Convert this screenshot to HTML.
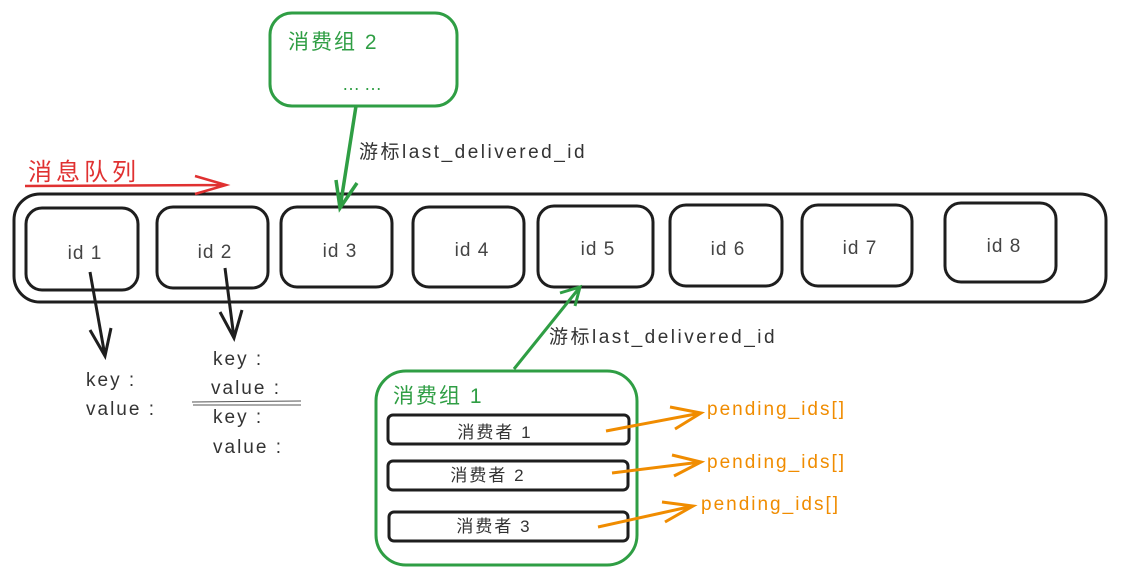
<!DOCTYPE html>
<html><head><meta charset="utf-8"><style>
html,body{margin:0;padding:0;background:#fff;}
svg text{font-family:"Liberation Sans","Noto Sans CJK SC",sans-serif;}
</style></head><body>
<svg width="1122" height="583" viewBox="0 0 1122 583" xmlns="http://www.w3.org/2000/svg">
<rect width="1122" height="583" fill="#fff"/>
<rect x="14" y="194" width="1092" height="108" rx="26" fill="none" stroke="#1e1e1e" stroke-width="3"/>
<g fill="none" stroke="#1e1e1e" stroke-width="3">
<rect x="26" y="208" width="112" height="82" rx="16"/>
<rect x="157" y="207" width="111" height="81" rx="16"/>
<rect x="281" y="207" width="111" height="80" rx="16"/>
<rect x="413" y="207" width="111" height="80" rx="16"/>
<rect x="538" y="206" width="115" height="81" rx="16"/>
<rect x="670" y="205" width="112" height="81" rx="16"/>
<rect x="802" y="205" width="110" height="81" rx="16"/>
<rect x="945" y="203" width="111" height="79" rx="16"/>
</g>
<g font-size="19" fill="#444" text-anchor="middle" letter-spacing="1">
<text x="85" y="259">id 1</text>
<text x="215" y="258">id 2</text>
<text x="340" y="257">id 3</text>
<text x="472" y="256">id 4</text>
<text x="598" y="255">id 5</text>
<text x="728" y="255">id 6</text>
<text x="860" y="254">id 7</text>
<text x="1004" y="252">id 8</text>
</g>
<text x="28" y="180" font-size="24" fill="#e03131" letter-spacing="4">消息队列</text>
<path d="M25 186 L225 185 M195 176 L226 185 L195 194" fill="none" stroke="#e03131" stroke-width="2.5"/>
<path d="M90 272 L105 356 M90 330 L105 356 L111 328" fill="none" stroke="#1e1e1e" stroke-width="3"/>
<path d="M225 268 L234 338 M220 312 L234 338 L242 310" fill="none" stroke="#1e1e1e" stroke-width="3"/>
<g font-size="19" fill="#333" letter-spacing="2">
<text x="86" y="386">key :</text>
<text x="86" y="415">value :</text>
<text x="213" y="365">key :</text>
<text x="211" y="394">value :</text>
<text x="213" y="423">key :</text>
<text x="213" y="453">value :</text>
</g>
<path d="M192 402 L301 401 M193 405 L301 405" stroke="#555" stroke-width="1"/>
<rect x="270" y="13" width="187" height="93" rx="22" fill="none" stroke="#2f9e44" stroke-width="3"/>
<text x="288" y="49" font-size="21" fill="#2f9e44" letter-spacing="2">消费组 2</text>
<text x="342" y="90" font-size="18" fill="#2f9e44" letter-spacing="4">……</text>
<path d="M356 106 L340 208 M336 180 L340 208 L357 183" fill="none" stroke="#2f9e44" stroke-width="3.5"/>
<text x="359" y="158" font-size="19" fill="#333" letter-spacing="2.5">游标last_delivered_id</text>
<path d="M514 369 L580 287 M560 293 L580 287 L575 306" fill="none" stroke="#2f9e44" stroke-width="3"/>
<text x="549" y="343" font-size="19" fill="#333" letter-spacing="2.5">游标last_delivered_id</text>
<rect x="376" y="371" width="261" height="194" rx="30" fill="none" stroke="#2f9e44" stroke-width="3"/>
<text x="393" y="403" font-size="21" fill="#2f9e44" letter-spacing="2">消费组 1</text>
<g fill="none" stroke="#1e1e1e" stroke-width="3">
<rect x="388" y="415" width="241" height="29" rx="5"/>
<rect x="388" y="461" width="240" height="29" rx="5"/>
<rect x="389" y="512" width="239" height="29" rx="5"/>
</g>
<g font-size="17" fill="#333" text-anchor="middle" letter-spacing="2">
<text x="495" y="438">消费者 1</text>
<text x="488" y="481">消费者 2</text>
<text x="494" y="532">消费者 3</text>
</g>
<g fill="none" stroke="#f08c00" stroke-width="3">
<path d="M606 431 L701 413 M670 407 L701 413 L675 429"/>
<path d="M612 473 L701 462 M672 455 L701 462 L674 476"/>
<path d="M598 527 L693 506 M662 502 L693 506 L665 522"/>
</g>
<g font-size="19" fill="#f08c00" letter-spacing="2">
<text x="707" y="415">pending_ids[]</text>
<text x="707" y="468">pending_ids[]</text>
<text x="701" y="510">pending_ids[]</text>
</g>
</svg>
</body></html>
